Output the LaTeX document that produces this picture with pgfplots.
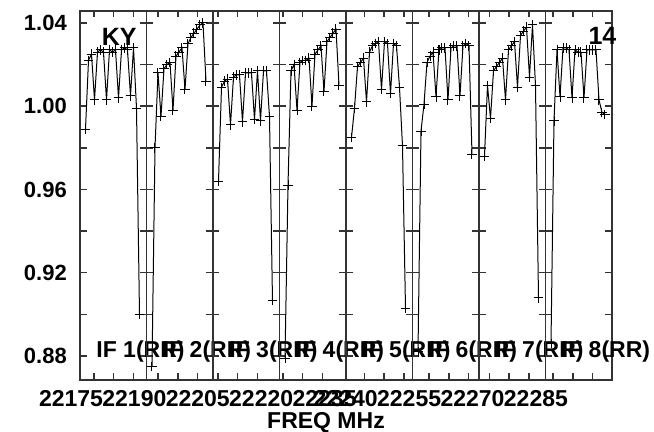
\documentclass[border=0pt]{standalone}
\usepackage{pgfplots}
\pgfplotsset{compat=1.18}
\usepackage{pgfplotstable}
\usepackage{fontspec}
\setmainfont{Liberation Sans}

\pgfplotstableread{
ch if1 if2 if3 if4 if5 if6 if7 if8
1 0.989 0.875 0.964 0.879 0.985 0.882 0.976 0.886
2 1.022 0.980 1.009 0.962 0.999 0.988 1.010 0.993
3 1.025 1.016 1.012 1.017 1.019 1.001 0.994 1.027
4 1.003 0.995 1.013 1.020 1.021 1.021 1.017 1.0045
5 1.026 1.018 0.991 0.998 1.023 1.024 1.019 1.028
6 1.027 1.020 1.014 1.021 1.002 1.026 1.021 1.028
7 1.026 1.021 1.015 1.022 1.026 1.0045 1.023 1.027
8 1.003 0.998 1.015 1.022 1.029 1.027 1.003 1.004
9 1.027 1.024 0.9925 1.023 1.030 1.028 1.027 1.027
10 1.026 1.026 1.016 1.000 1.031 1.028 1.029 1.026
11 1.027 1.028 1.016 1.025 1.008 1.003 1.031 1.026
12 1.004 1.008 1.016 1.027 1.031 1.028 1.009 1.004
13 1.027 1.030 0.9936 1.029 1.030 1.029 1.034 1.027
14 1.028 1.033 1.017 1.007 1.006 1.029 1.036 1.027
15 1.027 1.035 0.993 1.031 1.030 1.005 1.038 1.027
16 1.005 1.037 1.017 1.033 1.029 1.029 1.014 1.027
17 1.028 1.039 1.017 1.035 1.009 1.030 1.039 1.003
18 0.999 1.040 0.995 1.037 0.981 1.029 1.010 0.997
19 0.900 1.012 0.9066 1.010 0.903 0.977 0.908 0.996
}\data

\pgfplotsset{
 panel/.style={scale only axis, width=33.25pt, height=184.5pt, anchor=south west,
  xmin=-0.8333, xmax=21.3333, ymin=0.8685, ymax=1.0457,
  ytick={0.88,0.92,0.96,1.00,1.04}, minor ytick={0.90,0.94,0.98,1.02},
  yticklabels={}, xticklabels={},
  tick align=inside, major tick length=3.25pt, minor tick length=3.25pt,
  axis line style={black!80, line width=0.75pt},
  every tick/.style={black!80, line width=0.7pt},
  clip=false,
  ticklabel style={font=\fontsize{11}{13}\selectfont\bfseries},
  yticklabel style={xshift=-3.07pt},
 },
 dat/.style={black, line width=0.5pt, mark=+, mark size=2.4pt, mark options={solid, line width=0.5pt}},
}
\tikzset{lab/.style={font=\fontsize{11.5}{13}\selectfont\bfseries, anchor=base west, inner sep=0pt},
  big/.style={font=\fontsize{12.5}{14}\selectfont\bfseries}}

\begin{document}
\begin{tikzpicture}
\useasboundingbox (-40pt,-26pt) rectangle (287pt,190pt);

\begin{axis}[panel, at={(0pt,0pt)}, xtick={3.833,10.433,17.033},
  yticklabels={0.88,0.92,0.96,1.00,1.04}]
\addplot[dat] table[x=ch, y=if1] {\data};
\node[big] at (rel axis cs:0.59,0.93) {KY};
\node[lab] at (rel axis cs:0.2406,0.0615) {IF 1(RR)};
\end{axis}

\begin{axis}[panel, at={(33.25pt,0pt)}, xtick={3.033,9.633,16.233}]
\addplot[dat] table[x=ch, y=if2] {\data};
\node[lab] at (rel axis cs:0.2406,0.0615) {IF 2(RR)};
\end{axis}

\begin{axis}[panel, at={(66.5pt,0pt)}, xtick={0.833,7.433,14.033}]
\addplot[dat] table[x=ch, y=if3] {\data};
\node[lab] at (rel axis cs:0.2406,0.0615) {IF 3(RR)};
\end{axis}

\begin{axis}[panel, at={(99.75pt,0pt)}, xtick={0.3,6.9,13.5}]
\addplot[dat] table[x=ch, y=if4] {\data};
\node[lab] at (rel axis cs:0.2406,0.0615) {IF 4(RR)};
\end{axis}

\begin{axis}[panel, at={(133pt,0pt)}, xtick={5.267,11.867,18.467}]
\addplot[dat] table[x=ch, y=if5] {\data};
\node[lab] at (rel axis cs:0.2406,0.0615) {IF 5(RR)};
\end{axis}

\begin{axis}[panel, at={(166.25pt,0pt)}, xtick={4.7,11.3,17.9}]
\addplot[dat] table[x=ch, y=if6] {\data};
\node[lab] at (rel axis cs:0.2406,0.0615) {IF 6(RR)};
\end{axis}

\begin{axis}[panel, at={(199.5pt,0pt)}, xtick={2.6,9.2,15.8}]
\addplot[dat] table[x=ch, y=if7] {\data};
\node[lab] at (rel axis cs:0.2406,0.0615) {IF 7(RR)};
\end{axis}

\begin{axis}[panel, at={(232.75pt,0pt)}, xtick={1.733,8.333,14.933}]
\addplot[dat] table[x=ch, y=if8] {\data};
\node[lab] at (rel axis cs:0.2406,0.0615) {IF 8(RR)};
\node[big] at (rel axis cs:0.857,0.932) {14};
\end{axis}

\begin{axis}[at={(-20pt,0pt)}, anchor=south west, scale only axis, width=286pt, height=184.5pt,
  xmin=22167.67, xmax=22303.0, ymin=0, ymax=1,
  axis line style={draw=none}, tick style={draw=none}, major tick length=0pt,
  ytick=\empty, scaled x ticks=false,
  xtick={22175,22190,22205,22220,22235,22240,22255,22270,22285},
  xticklabels={22175,22190,22205,22220,22235,22240,22255,22270,22285},
  xticklabel style={font=\fontsize{11.5}{13}\selectfont\bfseries, yshift=-1.5pt},
  xlabel={FREQ MHz},
  xlabel style={at={(axis description cs:0.5,0)}, anchor=north, yshift=-12.6pt, font=\fontsize{11.5}{13}\selectfont\bfseries}]
\end{axis}
\end{tikzpicture}
\end{document}
